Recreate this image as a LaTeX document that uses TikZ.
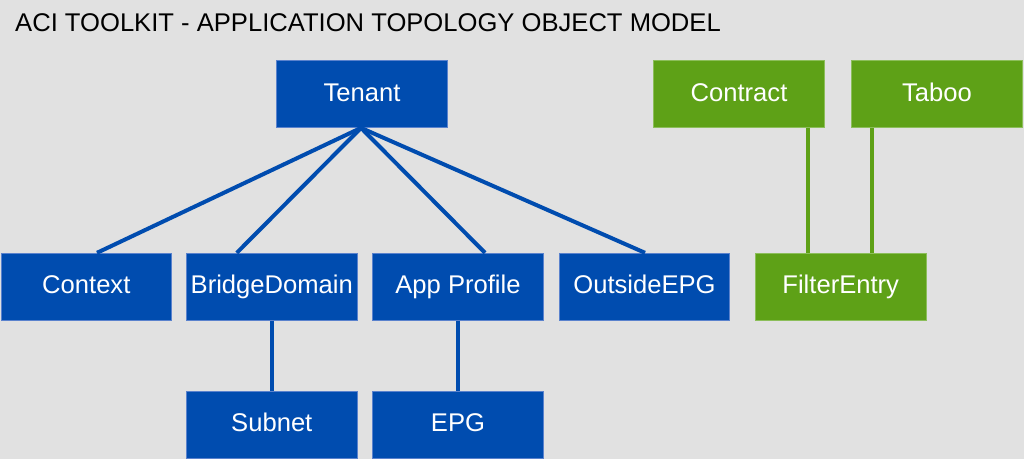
\documentclass[tikz,border=0pt]{standalone}
\usepackage{fontspec}
\setmainfont{Liberation Sans}
\definecolor{bgc}{RGB}{225,225,225}
\definecolor{aciblue}{RGB}{0,76,175}
\definecolor{aciblueedge}{RGB}{90,130,205}
\definecolor{acigreen}{RGB}{94,161,23}
\definecolor{acigreenedge}{RGB}{140,190,90}
\tikzset{
  objbox/.style={rectangle, minimum width=170.5pt, minimum height=67pt, inner sep=0pt,
    text=white, font=\fontsize{25.6}{30}\selectfont, text height=18.3pt, text depth=4.3pt,
    line width=0.8pt},
  bluebox/.style={objbox, fill=aciblue, draw=aciblueedge},
  greenbox/.style={objbox, fill=acigreen, draw=acigreenedge},
  blueline/.style={draw=aciblue, line width=4pt},
  greenline/.style={draw=acigreen, line width=4pt},
}
\begin{document}
\begin{tikzpicture}[x=1pt,y=-1pt]
\fill[bgc] (0,0) rectangle (1024,459);
\useasboundingbox (0,0) rectangle (1024,459);
\node[anchor=base west, font=\fontsize{25.6}{30}\selectfont, inner sep=0pt] (title) at (15,31.5) {ACI TOOLKIT - APPLICATION TOPOLOGY OBJECT MODEL};
% nodes
\node[bluebox] (tenant) at (362,94) {Tenant};
\node[greenbox] (contract) at (739,94) {Contract};
\node[greenbox] (taboo) at (937,94) {Taboo};
\node[bluebox] (context) at (86.3,286.7) {Context};
\node[bluebox] (bridge) at (271.8,286.7) {BridgeDomain};
\node[bluebox] (app) at (458,286.7) {App Profile};
\node[bluebox] (outside) at (644.5,286.7) {OutsideEPG};
\node[greenbox] (filter) at (840.7,286.7) {FilterEntry};
\node[bluebox] (subnet) at (271.8,424.7) {Subnet};
\node[bluebox] (epg) at (458,424.7) {EPG};
% connectors
\draw[blueline] ([xshift=-1pt]tenant.south) -- ([xshift=10.7pt]context.north);
\draw[blueline] ([xshift=-1pt]tenant.south) -- ([xshift=-35pt]bridge.north);
\draw[blueline] ([xshift=-1pt]tenant.south) -- ([xshift=27pt]app.north);
\draw[blueline] ([xshift=-1pt]tenant.south) -- ([xshift=0.5pt]outside.north);
\draw[blueline] (bridge.south) -- (subnet.north);
\draw[blueline] (app.south) -- (epg.north);
\draw[greenline] ([xshift=-33pt]filter.north) -- ([xshift=-33pt]filter.north |- contract.south);
\draw[greenline] ([xshift=31.3pt]filter.north) -- ([xshift=31.3pt]filter.north |- taboo.south);
\end{tikzpicture}
\end{document}
